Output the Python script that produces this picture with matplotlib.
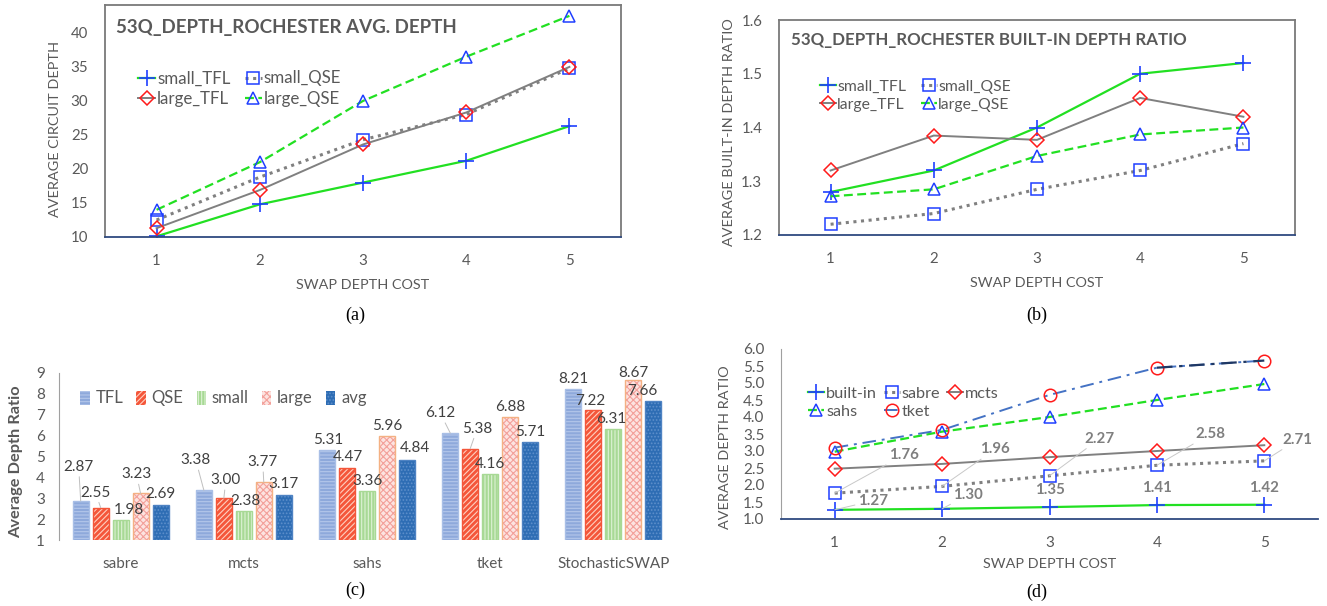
import numpy as np
import matplotlib
matplotlib.use('Agg')
import matplotlib.pyplot as plt

plt.rcParams['font.family'] = ['Lato', 'DejaVu Sans']
plt.rcParams['hatch.linewidth'] = 0.8

# ---- data ----
swap_cost = [1, 2, 3, 4, 5]

# (a) average circuit depth
a_small_tfl = [10.1, 14.8, 18.0, 21.2, 26.3]
a_small_qse = [12.5, 18.8, 24.3, 28.0, 34.8]
a_large_tfl = [11.3, 16.9, 23.6, 28.3, 35.0]
a_large_qse = [14.0, 21.0, 30.0, 36.5, 42.5]

# (b) built-in depth ratio
b_small_tfl = [1.28, 1.32, 1.40, 1.50, 1.52]
b_small_qse = [1.22, 1.24, 1.285, 1.32, 1.37]
b_large_tfl = [1.32, 1.385, 1.377, 1.455, 1.42]
b_large_qse = [1.272, 1.285, 1.347, 1.387, 1.40]

# (c) average depth ratio per router
routers = ['sabre', 'mcts', 'sahs', 'tket', 'StochasticSWAP']
c_groups = ['TFL', 'QSE', 'small', 'large', 'avg']
c_tfl = [2.87, 3.38, 5.31, 6.12, 8.21]
c_qse = [2.55, 3.00, 4.47, 5.38, 7.22]
c_small = [1.98, 2.38, 3.36, 4.16, 6.31]
c_large = [3.23, 3.77, 5.96, 6.88, 8.67]
c_avg = [2.69, 3.17, 4.84, 5.71, 7.66]

# (d) average depth ratio vs swap cost
d_builtin = [1.27, 1.30, 1.35, 1.41, 1.42]
d_sabre = [1.76, 1.96, 2.27, 2.58, 2.71]
d_mcts = [2.48, 2.62, 2.82, 3.00, 3.17]
d_sahs = [2.98, 3.57, 4.00, 4.50, 4.97]
d_tket = [3.10, 3.62, 4.65, 5.45, 5.66]

# label offsets in pixels (dx, dy) -- layout only
c_label_off = [
    [(-2, -34), (-5, -15), (8, -10), (-4, -19), (0, -11)],
    [(-8, -30), (2, -18), (2, -10), (-1, -20), (0, -11)],
    [(1, -10), (1, -11), (0, -10), (0, -10), (8, -12)],
    [(-10, -20), (7, -20), (0, -10), (0, -10), (0, -10)],
    [(0, -10), (-3, -9), (-2, -10), (0, -7), (-11, -10)],
]
d_builtin_off = [(38, -9), (26, -14), (0, -17), (0, -17), (0, -17)]
d_sabre_off = [(69, -38), (53, -37), (50, -37), (53, -31), (33, -21)]

W, H = 1327, 606
fig = plt.figure(figsize=(W / 100, H / 100), dpi=100)


def px_axes(l, t, r, b):
    return fig.add_axes([l / W, 1 - b / H, (r - l) / W, (b - t) / H])


GREEN = '#22E022'
GRAY = '#808080'
BLUE = '#1F3FFF'
RED = '#FF1A1A'
TXT = '#595959'
NAVY = '#2F4A80'
LAB = 10.4

line_styles = {
    'small_TFL': dict(color=GREEN, ls='-', lw=1.6, marker='+', ms=11, mec=BLUE, mew=1.2),
    'small_QSE': dict(color=GRAY, ls=(0, (1, 1.5)), lw=2.2, marker='s', ms=9, mec=BLUE, mfc='none', mew=1.1),
    'large_TFL': dict(color=GRAY, ls='-', lw=1.4, marker='D', ms=7.5, mec=RED, mfc='none', mew=1.1),
    'large_QSE': dict(color=GREEN, ls=(0, (4, 2)), lw=1.6, marker='^', ms=9, mec=BLUE, mfc='none', mew=1.1),
}


def style_box(ax):
    for s in ['top', 'left', 'right']:
        ax.spines[s].set_color('#7a7a7a')
        ax.spines[s].set_linewidth(1.3)
    ax.spines['bottom'].set_color(NAVY)
    ax.spines['bottom'].set_linewidth(1.3)
    ax.tick_params(length=0, labelsize=10.8, labelcolor=TXT, pad=12)
    ax.set_xticks(swap_cost)
    ax.set_xlim(0.5, 5.5)


def leg(ax, handles, labels, x, y, ncol, fs, cs):
    ax.legend(handles, labels, loc='upper left', bbox_to_anchor=(x / W, 1 - y / H),
              bbox_transform=fig.transFigure, ncol=ncol, frameon=False, borderpad=0,
              handlelength=1.0, handletextpad=0.1, columnspacing=cs,
              labelspacing=0.25, fontsize=fs, labelcolor=TXT)


# ---- (a) ----
ax = px_axes(105, 5, 621, 237)
series_a = [('small_TFL', a_small_tfl), ('small_QSE', a_small_qse),
            ('large_TFL', a_large_tfl), ('large_QSE', a_large_qse)]
h = {}
for name, vals in series_a:
    h[name], = ax.plot(swap_cost, vals, **line_styles[name])
style_box(ax)
ax.set_ylim(10, 44.1)
ax.set_yticks([10, 15, 20, 25, 30, 35, 40])
ax.set_ylabel('AVERAGE CIRCUIT DEPTH', color=TXT, fontsize=LAB)
ax.yaxis.set_label_coords(-0.085, 0.466)
ax.set_xlabel('SWAP DEPTH COST', color=TXT, fontsize=LAB, labelpad=8)
fig.text(116 / W, 1 - 27 / H, '53Q_DEPTH_ROCHESTER AVG. DEPTH', fontsize=13.5,
         fontweight='bold', color=TXT, va='center')
order = ['small_TFL', 'large_TFL', 'small_QSE', 'large_QSE']
leg(ax, [h[k] for k in order], order, 130, 62, 2, 12.2, 0.85)

# ---- (b) ----
ax = px_axes(779, 20, 1295, 235)
series_b = [('small_TFL', b_small_tfl), ('small_QSE', b_small_qse),
            ('large_TFL', b_large_tfl), ('large_QSE', b_large_qse)]
h = {}
for name, vals in series_b:
    h[name], = ax.plot(swap_cost, vals, **line_styles[name])
style_box(ax)
ax.set_ylim(1.2, 1.6)
ax.set_yticks([1.2, 1.3, 1.4, 1.5, 1.6])
ax.set_ylabel('AVERAGE BUILT-IN DEPTH RATIO', color=TXT, fontsize=LAB)
ax.yaxis.set_label_coords(-0.085, 0.48)
ax.set_xlabel('SWAP DEPTH COST', color=TXT, fontsize=LAB, labelpad=8)
fig.text(791 / W, 1 - 40 / H, '53Q_DEPTH_ROCHESTER BUILT-IN DEPTH RATIO', fontsize=12.2,
         fontweight='bold', color=TXT, va='center')
leg(ax, [h[k] for k in order], order, 812, 72, 2, 11.3, 0.95)

# ---- (c) ----
ax = px_axes(59, 373, 675, 540)
c_vals = [c_tfl, c_qse, c_small, c_large, c_avg]
bar_faces = ['#8EA9DB', '#F4563A', '#A8D995', '#FDE3E0', '#2E6DB4']
bar_hatch = ['-----', '//////', '|||||', 'xxxxx', '.....']
bar_hcol = ['#B4C7EA', '#FFD0C0', '#DDF2D4', '#F3A09A', '#5D8FCB']
bar_edge = ['#A9BFE6', '#F4563A', '#A8D995', '#F4B183', '#4F83C3']
x = np.arange(len(routers))
pitch, width = 0.162, 0.13
handles = []
for j, vals in enumerate(c_vals):
    xs = x + (j - 2) * pitch
    bottoms = np.ones(len(vals))
    b = ax.bar(xs, np.array(vals) - 1, width, bottom=bottoms, color=bar_faces[j],
               edgecolor=bar_hcol[j], hatch=bar_hatch[j], linewidth=0)
    ax.bar(xs, np.array(vals) - 1, width, bottom=bottoms, fill=False,
           edgecolor=bar_edge[j], linewidth=1.0)
    handles.append(b)
    for i, v in enumerate(vals):
        dx, dy = c_label_off[i][j]
        arrow = None
        if np.hypot(dx, dy) >= 15:
            arrow = dict(arrowstyle='-', color='#bfbfbf', lw=0.7, shrinkA=0, shrinkB=0)
        ax.annotate(f'{v:.2f}', xy=(xs[i], v), xytext=(dx * 0.72, -dy * 0.72),
                    textcoords='offset points', ha='center', va='center',
                    fontsize=11, color='#404040', arrowprops=arrow)
ax.set_xlim(-0.5, 4.5)
ax.set_ylim(1, 9)
ax.set_yticks(range(1, 10))
ax.set_xticks(x)
ax.set_xticklabels(routers)
for s in ['top', 'right', 'bottom']:
    ax.spines[s].set_visible(False)
ax.spines['left'].set_color('#a0a0a0')
ax.tick_params(length=0, labelsize=11, labelcolor=TXT)
ax.tick_params(axis='y', pad=10)
ax.tick_params(axis='x', pad=12)
ax.set_ylabel('Average Depth Ratio', color=TXT, fontsize=11.8, fontweight='bold')
ax.yaxis.set_label_coords(-0.058, 0.47)
ax.legend(handles, c_groups, loc='upper left', bbox_to_anchor=(72 / W, 1 - 382 / H),
          bbox_transform=fig.transFigure, ncol=5, frameon=False, borderpad=0,
          handlelength=0.55, handleheight=0.9, handletextpad=0.35, columnspacing=0.8,
          fontsize=12, labelcolor=TXT)

# ---- (d) ----
ax = px_axes(781, 349, 1318, 519)
d_styles = {
    'built-in': line_styles['small_TFL'],
    'sabre': line_styles['small_QSE'],
    'mcts': line_styles['large_TFL'],
    'sahs': line_styles['large_QSE'],
    'tket': dict(color='#4472C4', ls=(0, (7, 3, 1.5, 3)), lw=1.4, marker='o', ms=9,
                 mec=RED, mfc='none', mew=1.1),
}
series_d = [('built-in', d_builtin), ('sabre', d_sabre), ('mcts', d_mcts),
            ('sahs', d_sahs), ('tket', d_tket)]
h = {}
for name, vals in series_d:
    h[name], = ax.plot(swap_cost, vals, **d_styles[name])
# darker last tket segment
ax.plot(swap_cost[3:], d_tket[3:], color='#1F3864', ls=(0, (7, 3, 1.5, 3)), lw=1.6)
for vals, offs in [(d_builtin, d_builtin_off), (d_sabre, d_sabre_off)]:
    for xi, v, (dx, dy) in zip(swap_cost, vals, offs):
        arrow = None
        if np.hypot(dx, dy) > 20:
            arrow = dict(arrowstyle='-', color='#c8c8c8', lw=0.7, shrinkA=0, shrinkB=0)
        ax.annotate(f'{v:.2f}', xy=(xi, v), xytext=(dx * 0.72, -dy * 0.72),
                    textcoords='offset points', ha='center', va='center',
                    fontsize=10.8, fontweight='bold', color='#7f7f7f', arrowprops=arrow)
ax.set_xlim(0.5, 5.5)
ax.set_ylim(1, 6)
ax.set_yticks(np.arange(1, 6.01, 0.5))
ax.yaxis.set_major_formatter(matplotlib.ticker.FormatStrFormatter('%.1f'))
ax.set_xticks(swap_cost)
for s in ['top', 'right']:
    ax.spines[s].set_visible(False)
ax.spines['left'].set_color('#a0a0a0')
ax.spines['bottom'].set_color(NAVY)
ax.spines['bottom'].set_linewidth(1.3)
ax.tick_params(length=0, labelsize=11, labelcolor=TXT)
ax.tick_params(axis='y', pad=12)
ax.tick_params(axis='x', pad=12)
ax.set_ylabel('AVERAGE DEPTH RATIO', color=TXT, fontsize=LAB)
ax.yaxis.set_label_coords(-0.093, 0.42)
ax.set_xlabel('SWAP DEPTH COST', color=TXT, fontsize=LAB, labelpad=6)
d_order = ['built-in', 'sahs', 'sabre', 'tket', 'mcts']
leg(ax, [h[k] for k in d_order], d_order, 800, 378, 3, 11.7, 0.4)

# captions
for cx, cy, t in [(355, 315, '(a)'), (1037, 315, '(b)'), (355, 590, '(c)'), (1037, 592, '(d)')]:
    fig.text(cx / W, 1 - cy / H, t, ha='center', va='center', fontsize=13,
             family='Liberation Serif', color='black')

fig.savefig('out.png', dpi=100)
